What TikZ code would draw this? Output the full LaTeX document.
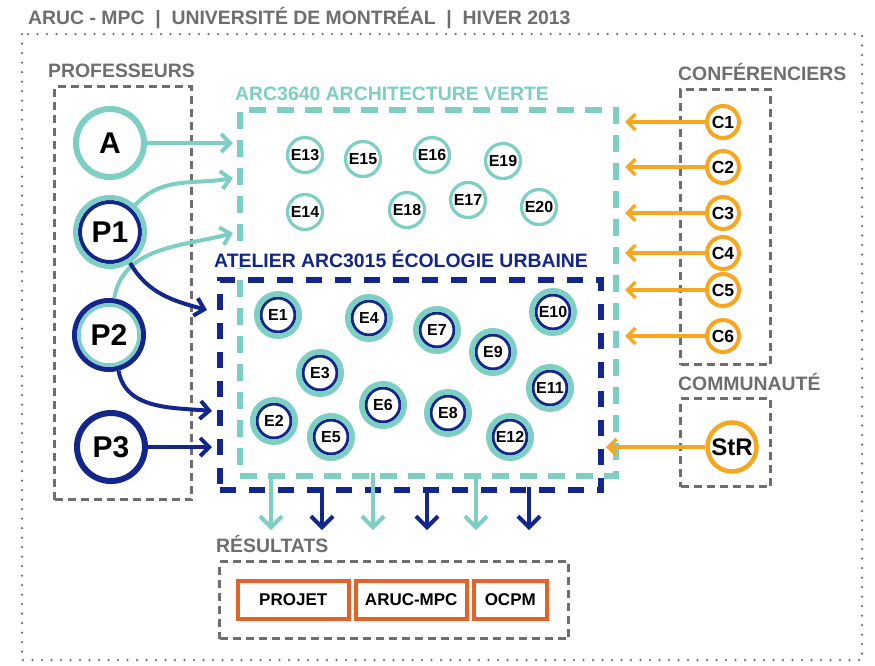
\documentclass[tikz,border=0pt]{standalone}
\usepackage{fontspec}
\setmainfont{Liberation Sans}
\usetikzlibrary{arrows.meta}
\definecolor{tealc}{RGB}{125,207,196}
\definecolor{navyc}{RGB}{18,38,140}
\definecolor{orangec}{RGB}{247,166,30}
\definecolor{redc}{RGB}{228,98,38}
\definecolor{grayc}{RGB}{110,110,110}
\begin{document}
\begin{tikzpicture}[x=1pt,y=1pt,
  lbl/.style={anchor=base west, inner sep=0pt, font=\fontsize{19.4}{21}\selectfont\bfseries, text=grayc},
  graybox/.style={draw=grayc, line width=3pt, dash pattern=on 8pt off 5pt},
  ring/.style 2 args={path picture={\draw[#1] (path picture bounding box.center) circle (#2);}},
  prof/.style={circle, inner sep=0pt, minimum size=69pt, fill=white, font=\fontsize{30}{32}\selectfont\bfseries},
  stud/.style={circle, inner sep=0pt, draw=tealc, line width=5.5pt, minimum size=42.5pt, fill=white,
     font=\fontsize{16}{17}\selectfont\bfseries, ring={navyc, line width=3pt}{17pt}},
  studv/.style={circle, inner sep=0pt, draw=tealc, line width=3.2pt, minimum size=35pt, fill=white,
     font=\fontsize{16}{17}\selectfont\bfseries},
  conf/.style={circle, inner sep=0pt, draw=orangec, line width=4pt, minimum size=32pt, fill=white,
     font=\fontsize{17.5}{18}\selectfont\bfseries},
  res/.style={draw=redc, line width=3.5pt, inner sep=0pt, minimum height=38pt, font=\fontsize{17}{18}\selectfont\bfseries},
  tarrow/.style={draw=tealc, line width=4pt, -{Straight Barb[length=9pt,width=18pt]}},
  narrow/.style={draw=navyc, line width=4pt, -{Straight Barb[length=9pt,width=18pt]}},
  oarrow/.style={draw=orangec, line width=3.5pt, -{Straight Barb[length=8pt,width=16pt]}},
  tdown/.style={draw=tealc, line width=4pt, -{Straight Barb[length=11pt,width=22pt]}},
  ndown/.style={draw=navyc, line width=4pt, -{Straight Barb[length=11pt,width=22pt]}}
]
\useasboundingbox (0,0) rectangle (875,-665);
\fill[white] (0,0) rectangle (875,-665);

% title and outer frame
\node[lbl] (title) at (28,-24) {ARUC - MPC\ \ |\ \ UNIVERSITÉ DE MONTRÉAL\ \ |\ \ HIVER 2013};
\draw[grayc, line width=2.5pt, line cap=round, dash pattern=on 0pt off 9.5pt] (22,-34) rectangle (862,-660);

% gray boxes
\node[graybox, anchor=north west, minimum width=137pt, minimum height=413pt, inner sep=0pt] (profbox) at (53,-85) {};
\node[graybox, anchor=north west, minimum width=90pt, minimum height=275pt, inner sep=0pt] (confbox) at (679,-88) {};
\node[graybox, anchor=north west, minimum width=90pt, minimum height=88pt, inner sep=0pt] (commbox) at (679,-397) {};
\node[graybox, anchor=north west, minimum width=349pt, minimum height=77pt, inner sep=0pt] (resbox) at (218,-560) {};

% course boxes
\node[draw=tealc, line width=6pt, dash pattern=on 17pt off 11pt, anchor=north west, minimum width=376pt, minimum height=366pt, inner sep=0pt] (arc) at (237,-107) {};
\node[draw=navyc, line width=6pt, dash pattern=on 16pt off 13pt, anchor=north west, minimum width=381pt, minimum height=210pt, inner sep=0pt] (atel) at (217,-277) {};

% labels
\node[lbl] (lprof) at (48,-77) {PROFESSEURS};
\node[lbl, text=tealc] (larc) at (235,-100) {ARC3640 ARCHITECTURE VERTE};
\node[lbl, text=navyc, fill=white, inner ysep=1pt] (latel) at (214,-267) {ATELIER ARC3015 ÉCOLOGIE URBAINE};
\node[lbl] (lconf) at (678,-80) {CONFÉRENCIERS};
\node[lbl] (lcomm) at (678,-390) {COMMUNAUTÉ};
\node[lbl] (lres) at (216,-552) {RÉSULTATS};

% professors
\node[prof, draw=tealc, line width=6pt, minimum size=68pt] (A) at (110,-143) {A};
\node[prof, draw=tealc, line width=5pt, ring={navyc, line width=4pt}{30pt}] (P1) at (110,-232) {P1};
\node[prof, draw=navyc, line width=5pt, ring={tealc, line width=3.5pt}{30pt}] (P2) at (109,-335) {P2};
\node[prof, draw=navyc, line width=6pt, minimum size=68pt] (P3) at (111,-447) {P3};

% students ARC3640 only
\node[studv] (E13) at (305,-155) {E13};
\node[studv] (E15) at (363,-159) {E15};
\node[studv] (E16) at (432,-155) {E16};
\node[studv] (E19) at (503,-161) {E19};
\node[studv] (E14) at (305,-212) {E14};
\node[studv] (E18) at (407,-210) {E18};
\node[studv] (E17) at (468,-200) {E17};
\node[studv] (E20) at (539,-207) {E20};

% students both
\node[stud] (E1) at (278,-315) {E1};
\node[stud] (E4) at (369,-318) {E4};
\node[stud] (E7) at (437,-330) {E7};
\node[stud] (E10) at (553,-312) {E10};
\node[stud] (E9) at (493,-352) {E9};
\node[stud] (E3) at (320,-373) {E3};
\node[stud] (E11) at (550,-388) {E11};
\node[stud] (E6) at (383,-405) {E6};
\node[stud] (E8) at (448,-413) {E8};
\node[stud] (E2) at (274,-421) {E2};
\node[stud] (E5) at (331,-437) {E5};
\node[stud] (E12) at (510,-437) {E12};

% speakers
\node[conf] (C1) at (723,-122) {C1};
\node[conf] (C2) at (723,-167) {C2};
\node[conf] (C3) at (723,-213) {C3};
\node[conf] (C4) at (723,-253) {C4};
\node[conf] (C5) at (723,-290) {C5};
\node[conf] (C6) at (723,-336) {C6};
\node[conf, line width=4.5pt, minimum size=49pt, font=\fontsize{24}{25}\selectfont\bfseries] (StR) at (732,-447) {StR};

% results
\node[res, anchor=north west, minimum width=111pt] (projet) at (236,-579) {PROJET};
\node[res, anchor=north west, minimum width=111pt] (aruc) at (354,-579) {ARUC-MPC};
\node[res, anchor=north west, minimum width=73pt] (ocpm) at (472,-579) {OCPM};

% professor arrows
\draw[tarrow] (A.east) -- ([xshift=-4pt]arc.west |- A);
\draw[tarrow] (P1.47) to[out=47, in=190] (233,-178);
\draw[tarrow] (P2.82) to[out=80, in=195] (233,-233);
\draw[narrow] (P1.-57) to[out=-60, in=165] (207,-310);
\draw[narrow] (P2.-75) to[out=-80, in=175] (212,-411);
\draw[narrow] (P3.east) -- ([xshift=-5pt]atel.west |- P3);

% speaker arrows
\foreach \c in {C1,C2,C3,C4,C5,C6}
  \draw[oarrow] (\c.west) -- ([xshift=6pt]arc.east |- \c);
\draw[oarrow] (StR.west) -- ([xshift=2pt]atel.east |- StR);

% output arrows
\foreach \x in {271,373,476}
  \draw[tdown] (\x,-473) -- (\x,-530);
\foreach \x in {322,427,529}
  \draw[ndown] (\x,-487) -- (\x,-530);
\end{tikzpicture}
\end{document}
